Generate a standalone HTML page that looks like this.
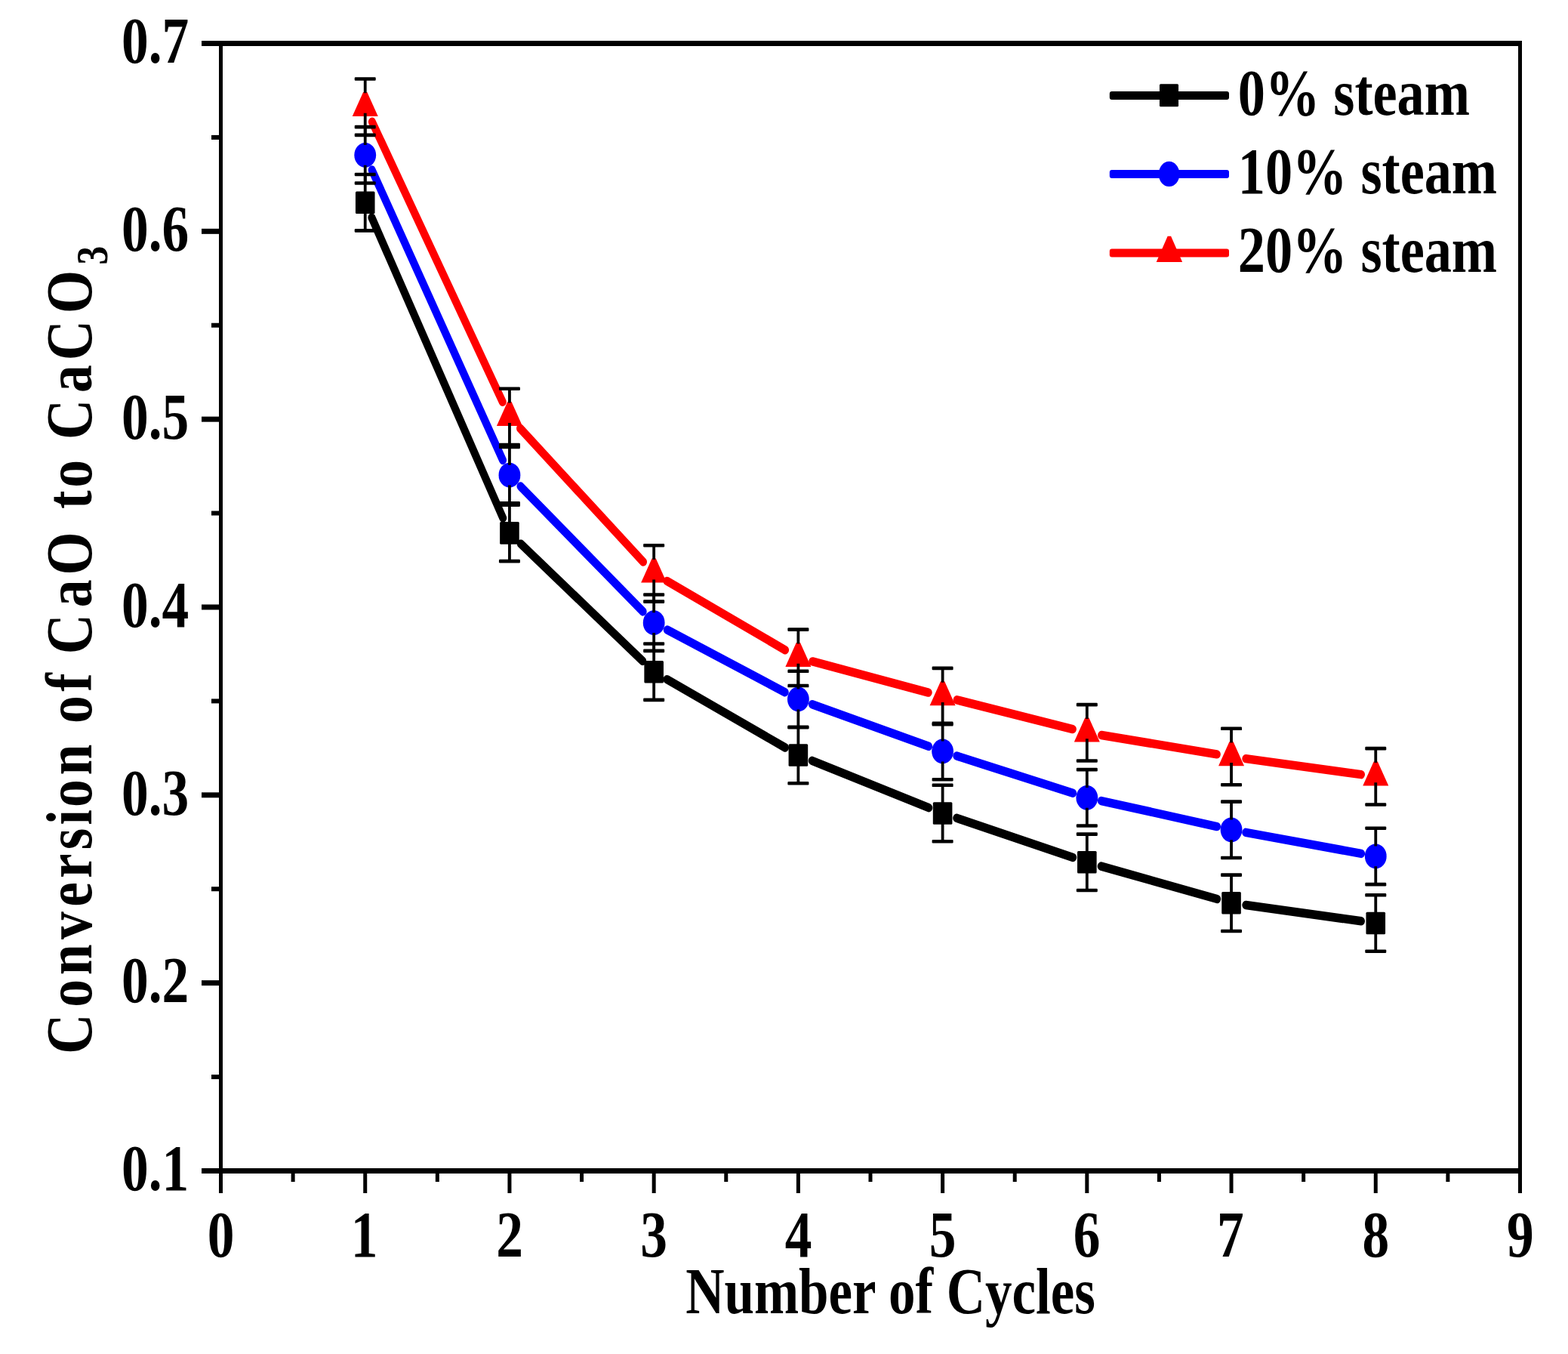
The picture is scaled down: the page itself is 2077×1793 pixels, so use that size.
<!DOCTYPE html><html><head><meta charset="utf-8"><title>Conversion of CaO to CaCO3 vs Number of Cycles</title>
<style>html,body{margin:0;padding:0;background:#fff;overflow:hidden}svg{display:block}text{font-family:"Liberation Serif", "Times New Roman", serif;font-weight:bold;fill:#000}</style></head><body>
<svg width="2077" height="1793" viewBox="0 0 2077 1793">
<rect width="2077" height="1793" fill="#fff"/>
<g fill="#000"><rect x="267" y="54" width="1749" height="7"/><rect x="267" y="1547" width="1749" height="7"/><rect x="290" y="54" width="5" height="1526"/><rect x="2011" y="54" width="5" height="1526"/><rect x="267" y="1546.98" width="24" height="7"/><rect x="267" y="1298.15" width="24" height="7"/><rect x="267" y="1049.32" width="24" height="7"/><rect x="267" y="800.49" width="24" height="7"/><rect x="267" y="551.66" width="24" height="7"/><rect x="267" y="302.83" width="24" height="7"/><rect x="267" y="54.00" width="24" height="7"/><rect x="280" y="1423.06" width="11" height="6"/><rect x="280" y="1174.23" width="11" height="6"/><rect x="280" y="925.40" width="11" height="6"/><rect x="280" y="676.57" width="11" height="6"/><rect x="280" y="427.74" width="11" height="6"/><rect x="280" y="178.91" width="11" height="6"/><rect x="290.00" y="1550" width="5" height="30"/><rect x="481.22" y="1550" width="5" height="30"/><rect x="672.44" y="1550" width="5" height="30"/><rect x="863.66" y="1550" width="5" height="30"/><rect x="1054.88" y="1550" width="5" height="30"/><rect x="1246.10" y="1550" width="5" height="30"/><rect x="1437.32" y="1550" width="5" height="30"/><rect x="1628.54" y="1550" width="5" height="30"/><rect x="1819.76" y="1550" width="5" height="30"/><rect x="2010.98" y="1550" width="5" height="30"/><rect x="385.61" y="1550" width="5" height="15"/><rect x="576.83" y="1550" width="5" height="15"/><rect x="768.05" y="1550" width="5" height="15"/><rect x="959.27" y="1550" width="5" height="15"/><rect x="1150.49" y="1550" width="5" height="15"/><rect x="1341.71" y="1550" width="5" height="15"/><rect x="1532.93" y="1550" width="5" height="15"/><rect x="1724.15" y="1550" width="5" height="15"/><rect x="1915.37" y="1550" width="5" height="15"/></g>
<text transform="translate(250.2 1576.18) scale(0.8250 1)" font-size="86.50" text-anchor="end">0.1</text>
<text transform="translate(250.2 1327.35) scale(0.8250 1)" font-size="86.50" text-anchor="end">0.2</text>
<text transform="translate(250.2 1078.52) scale(0.8250 1)" font-size="86.50" text-anchor="end">0.3</text>
<text transform="translate(250.2 829.69) scale(0.8250 1)" font-size="86.50" text-anchor="end">0.4</text>
<text transform="translate(250.2 580.86) scale(0.8250 1)" font-size="86.50" text-anchor="end">0.5</text>
<text transform="translate(250.2 332.03) scale(0.8250 1)" font-size="86.50" text-anchor="end">0.6</text>
<text transform="translate(250.2 83.20) scale(0.8250 1)" font-size="86.50" text-anchor="end">0.7</text>
<text transform="translate(274.66 1664.00) scale(0.8250 1)" font-size="86.50">0</text>
<text transform="translate(464.87 1664.00) scale(0.8250 1)" font-size="86.50">1</text>
<text transform="translate(657.13 1664.00) scale(0.8250 1)" font-size="86.50">2</text>
<text transform="translate(848.20 1664.00) scale(0.8250 1)" font-size="86.50">3</text>
<text transform="translate(1039.71 1664.00) scale(0.8250 1)" font-size="86.50">4</text>
<text transform="translate(1230.64 1664.00) scale(0.8250 1)" font-size="86.50">5</text>
<text transform="translate(1421.81 1664.00) scale(0.8250 1)" font-size="86.50">6</text>
<text transform="translate(1612.03 1664.00) scale(0.8250 1)" font-size="86.50">7</text>
<text transform="translate(1804.42 1664.00) scale(0.8250 1)" font-size="86.50">8</text>
<text transform="translate(1995.95 1664.00) scale(0.8250 1)" font-size="86.50">9</text>
<text transform="translate(908.25 1739.00) scale(0.8205 1)" font-size="86.50">Number of Cycles</text>
<g transform="translate(121.1 0) rotate(-90) scale(0.850 1)">
<text x="-1642.16 -1569.12 -1519.07 -1463.48 -1412.66 -1368.35 -1323.86 -1285.22 -1257.69 -1207.64 -1152.05 -1127.02 -1077.30 -1044.46 -1019.25 -946.31 -895.79 -817.63 -792.98 -759.64 -710.05 -684.84 -611.90 -561.37 -488.15" y="0" font-size="86.50">Conversion of CaO to CaCO</text>
<text x="-412.69" y="20.9" font-size="58.90">3</text>
</g>
<path transform="scale(1 1.150)" d="M492.43 250.55L666.23 596.49M689.83 626.27L851.27 761.21M883.50 782.35L1040.04 860.87M1075.69 875.98L1230.29 930.11M1267.21 942.01L1421.21 987.39M1458.66 997.50L1612.20 1035.20M1650.30 1042.16L1803.00 1060.71" fill="none" stroke="#000" stroke-width="10.0" stroke-linecap="round"/>
<path transform="scale(1 1.150)" d="M492.65 195.74L666.01 529.91M689.44 560.02L851.66 704.24M883.78 725.25L1039.76 797.10M1075.89 811.03L1230.09 859.41M1267.29 870.43L1421.13 913.31M1458.87 922.20L1611.99 951.80M1650.20 958.54L1803.10 982.94" fill="none" stroke="#00f" stroke-width="10.0" stroke-linecap="round"/>
<path transform="scale(1 1.150)" d="M492.89 140.32L665.77 462.81M689.05 493.23L852.05 647.03M883.46 669.12L1040.08 748.49M1076.27 761.66L1229.71 797.42M1267.55 805.98L1420.87 839.59M1459.02 846.51L1611.84 868.54M1650.30 873.61L1803.00 891.87" fill="none" stroke="#f00" stroke-width="10.0" stroke-linecap="round"/>
<rect x="470.92" y="253.40" width="25.60" height="29.60" rx="1.5" fill="#000"/><rect x="662.14" y="691.10" width="25.60" height="29.60" rx="1.5" fill="#000"/><rect x="853.36" y="874.90" width="25.60" height="29.60" rx="1.5" fill="#000"/><rect x="1044.58" y="985.20" width="25.60" height="29.60" rx="1.5" fill="#000"/><rect x="1235.80" y="1062.20" width="25.60" height="29.60" rx="1.5" fill="#000"/><rect x="1427.02" y="1127.00" width="25.60" height="29.60" rx="1.5" fill="#000"/><rect x="1618.24" y="1181.00" width="25.60" height="29.60" rx="1.5" fill="#000"/><rect x="1809.46" y="1207.70" width="25.60" height="29.60" rx="1.5" fill="#000"/>
<ellipse cx="483.72" cy="205.30" rx="14.40" ry="16.40" fill="#00f"/><ellipse cx="674.94" cy="629.20" rx="14.40" ry="16.40" fill="#00f"/><ellipse cx="866.16" cy="824.70" rx="14.40" ry="16.40" fill="#00f"/><ellipse cx="1057.38" cy="926.00" rx="14.40" ry="16.40" fill="#00f"/><ellipse cx="1248.60" cy="995.00" rx="14.40" ry="16.40" fill="#00f"/><ellipse cx="1439.82" cy="1056.30" rx="14.40" ry="16.40" fill="#00f"/><ellipse cx="1631.04" cy="1098.80" rx="14.40" ry="16.40" fill="#00f"/><ellipse cx="1822.26" cy="1133.90" rx="14.40" ry="16.40" fill="#00f"/>
<path d="M481.12 121.90L486.32 121.90L500.72 153.90L466.72 153.90Z" fill="#f00"/><path d="M672.34 532.10L677.54 532.10L691.94 564.10L657.94 564.10Z" fill="#f00"/><path d="M863.56 739.60L868.76 739.60L883.16 771.60L849.16 771.60Z" fill="#f00"/><path d="M1054.78 851.05L1059.98 851.05L1074.38 883.05L1040.38 883.05Z" fill="#f00"/><path d="M1246.00 902.30L1251.20 902.30L1265.60 934.30L1231.60 934.30Z" fill="#f00"/><path d="M1437.22 950.50L1442.42 950.50L1456.82 982.50L1422.82 982.50Z" fill="#f00"/><path d="M1628.44 982.20L1633.64 982.20L1648.04 1014.20L1614.04 1014.20Z" fill="#f00"/><path d="M1819.66 1008.50L1824.86 1008.50L1839.26 1040.50L1805.26 1040.50Z" fill="#f00"/>
<path d="M483.72 231.00L483.72 255.20M483.72 281.20L483.72 305.40M674.94 668.70L674.94 692.90M674.94 718.90L674.94 743.10M866.16 852.50L866.16 876.70M866.16 902.70L866.16 926.90M1057.38 962.80L1057.38 987.00M1057.38 1013.00L1057.38 1037.20M1248.60 1039.80L1248.60 1064.00M1248.60 1090.00L1248.60 1114.20M1439.82 1104.60L1439.82 1128.80M1439.82 1154.80L1439.82 1179.00M1631.04 1158.60L1631.04 1182.80M1631.04 1208.80L1631.04 1233.00M1822.26 1185.30L1822.26 1209.50M1822.26 1235.50L1822.26 1259.70" fill="none" stroke="#000" stroke-width="3.8" stroke-linecap="butt"/><g fill="#000"><rect x="469.72" y="228.70" width="28.00" height="4.60" rx="1.2"/><rect x="469.72" y="303.10" width="28.00" height="4.60" rx="1.2"/><rect x="660.94" y="666.40" width="28.00" height="4.60" rx="1.2"/><rect x="660.94" y="740.80" width="28.00" height="4.60" rx="1.2"/><rect x="852.16" y="850.20" width="28.00" height="4.60" rx="1.2"/><rect x="852.16" y="924.60" width="28.00" height="4.60" rx="1.2"/><rect x="1043.38" y="960.50" width="28.00" height="4.60" rx="1.2"/><rect x="1043.38" y="1034.90" width="28.00" height="4.60" rx="1.2"/><rect x="1234.60" y="1037.50" width="28.00" height="4.60" rx="1.2"/><rect x="1234.60" y="1111.90" width="28.00" height="4.60" rx="1.2"/><rect x="1425.82" y="1102.30" width="28.00" height="4.60" rx="1.2"/><rect x="1425.82" y="1176.70" width="28.00" height="4.60" rx="1.2"/><rect x="1617.04" y="1156.30" width="28.00" height="4.60" rx="1.2"/><rect x="1617.04" y="1230.70" width="28.00" height="4.60" rx="1.2"/><rect x="1808.26" y="1183.00" width="28.00" height="4.60" rx="1.2"/><rect x="1808.26" y="1257.40" width="28.00" height="4.60" rx="1.2"/></g>
<path d="M483.72 168.10L483.72 191.90M483.72 218.70L483.72 242.50M674.94 592.00L674.94 615.80M674.94 642.60L674.94 666.40M866.16 787.50L866.16 811.30M866.16 838.10L866.16 861.90M1057.38 888.80L1057.38 912.60M1057.38 939.40L1057.38 963.20M1248.60 957.80L1248.60 981.60M1248.60 1008.40L1248.60 1032.20M1439.82 1019.10L1439.82 1042.90M1439.82 1069.70L1439.82 1093.50M1631.04 1061.60L1631.04 1085.40M1631.04 1112.20L1631.04 1136.00M1822.26 1096.70L1822.26 1120.50M1822.26 1147.30L1822.26 1171.10" fill="none" stroke="#000" stroke-width="3.8" stroke-linecap="butt"/><g fill="#000"><rect x="469.72" y="165.80" width="28.00" height="4.60" rx="1.2"/><rect x="469.72" y="240.20" width="28.00" height="4.60" rx="1.2"/><rect x="660.94" y="589.70" width="28.00" height="4.60" rx="1.2"/><rect x="660.94" y="664.10" width="28.00" height="4.60" rx="1.2"/><rect x="852.16" y="785.20" width="28.00" height="4.60" rx="1.2"/><rect x="852.16" y="859.60" width="28.00" height="4.60" rx="1.2"/><rect x="1043.38" y="886.50" width="28.00" height="4.60" rx="1.2"/><rect x="1043.38" y="960.90" width="28.00" height="4.60" rx="1.2"/><rect x="1234.60" y="955.50" width="28.00" height="4.60" rx="1.2"/><rect x="1234.60" y="1029.90" width="28.00" height="4.60" rx="1.2"/><rect x="1425.82" y="1016.80" width="28.00" height="4.60" rx="1.2"/><rect x="1425.82" y="1091.20" width="28.00" height="4.60" rx="1.2"/><rect x="1617.04" y="1059.30" width="28.00" height="4.60" rx="1.2"/><rect x="1617.04" y="1133.70" width="28.00" height="4.60" rx="1.2"/><rect x="1808.26" y="1094.40" width="28.00" height="4.60" rx="1.2"/><rect x="1808.26" y="1168.80" width="28.00" height="4.60" rx="1.2"/></g>
<path d="M483.72 104.50L483.72 123.30M483.72 149.70L483.72 178.90M674.94 514.70L674.94 533.50M674.94 559.90L674.94 589.10M866.16 722.20L866.16 741.00M866.16 767.40L866.16 796.60M1057.38 833.65L1057.38 852.45M1057.38 878.85L1057.38 908.05M1248.60 884.90L1248.60 903.70M1248.60 930.10L1248.60 959.30M1439.82 933.10L1439.82 951.90M1439.82 978.30L1439.82 1007.50M1631.04 964.80L1631.04 983.60M1631.04 1010.00L1631.04 1039.20M1822.26 991.10L1822.26 1009.90M1822.26 1036.30L1822.26 1065.50" fill="none" stroke="#000" stroke-width="3.8" stroke-linecap="butt"/><g fill="#000"><rect x="469.72" y="102.20" width="28.00" height="4.60" rx="1.2"/><rect x="469.72" y="176.60" width="28.00" height="4.60" rx="1.2"/><rect x="660.94" y="512.40" width="28.00" height="4.60" rx="1.2"/><rect x="660.94" y="586.80" width="28.00" height="4.60" rx="1.2"/><rect x="852.16" y="719.90" width="28.00" height="4.60" rx="1.2"/><rect x="852.16" y="794.30" width="28.00" height="4.60" rx="1.2"/><rect x="1043.38" y="831.35" width="28.00" height="4.60" rx="1.2"/><rect x="1043.38" y="905.75" width="28.00" height="4.60" rx="1.2"/><rect x="1234.60" y="882.60" width="28.00" height="4.60" rx="1.2"/><rect x="1234.60" y="957.00" width="28.00" height="4.60" rx="1.2"/><rect x="1425.82" y="930.80" width="28.00" height="4.60" rx="1.2"/><rect x="1425.82" y="1005.20" width="28.00" height="4.60" rx="1.2"/><rect x="1617.04" y="962.50" width="28.00" height="4.60" rx="1.2"/><rect x="1617.04" y="1036.90" width="28.00" height="4.60" rx="1.2"/><rect x="1808.26" y="988.80" width="28.00" height="4.60" rx="1.2"/><rect x="1808.26" y="1063.20" width="28.00" height="4.60" rx="1.2"/></g>
<rect x="1469.8" y="121.00" width="158.2" height="11" rx="3" fill="#000"/>
<rect x="1535.95" y="111.20" width="25.10" height="30.00" rx="1.5" fill="#000"/>
<text transform="translate(1639.80 151.90) scale(0.8310 1)" font-size="87.00">0% steam</text>
<rect x="1469.8" y="224.95" width="158.2" height="11" rx="3" fill="#00f"/>
<ellipse cx="1548.60" cy="230.45" rx="13.80" ry="16.60" fill="#00f"/>
<text transform="translate(1639.80 256.10) scale(0.8310 1)" font-size="87.00">10% steam</text>
<rect x="1469.8" y="329.50" width="158.2" height="11" rx="3" fill="#f00"/>
<path d="M1546.70 312.70L1551.10 312.70L1566.10 346.90L1531.70 346.90Z" fill="#f00"/>
<text transform="translate(1639.80 360.30) scale(0.8310 1)" font-size="87.00">20% steam</text>
</svg></body></html>
